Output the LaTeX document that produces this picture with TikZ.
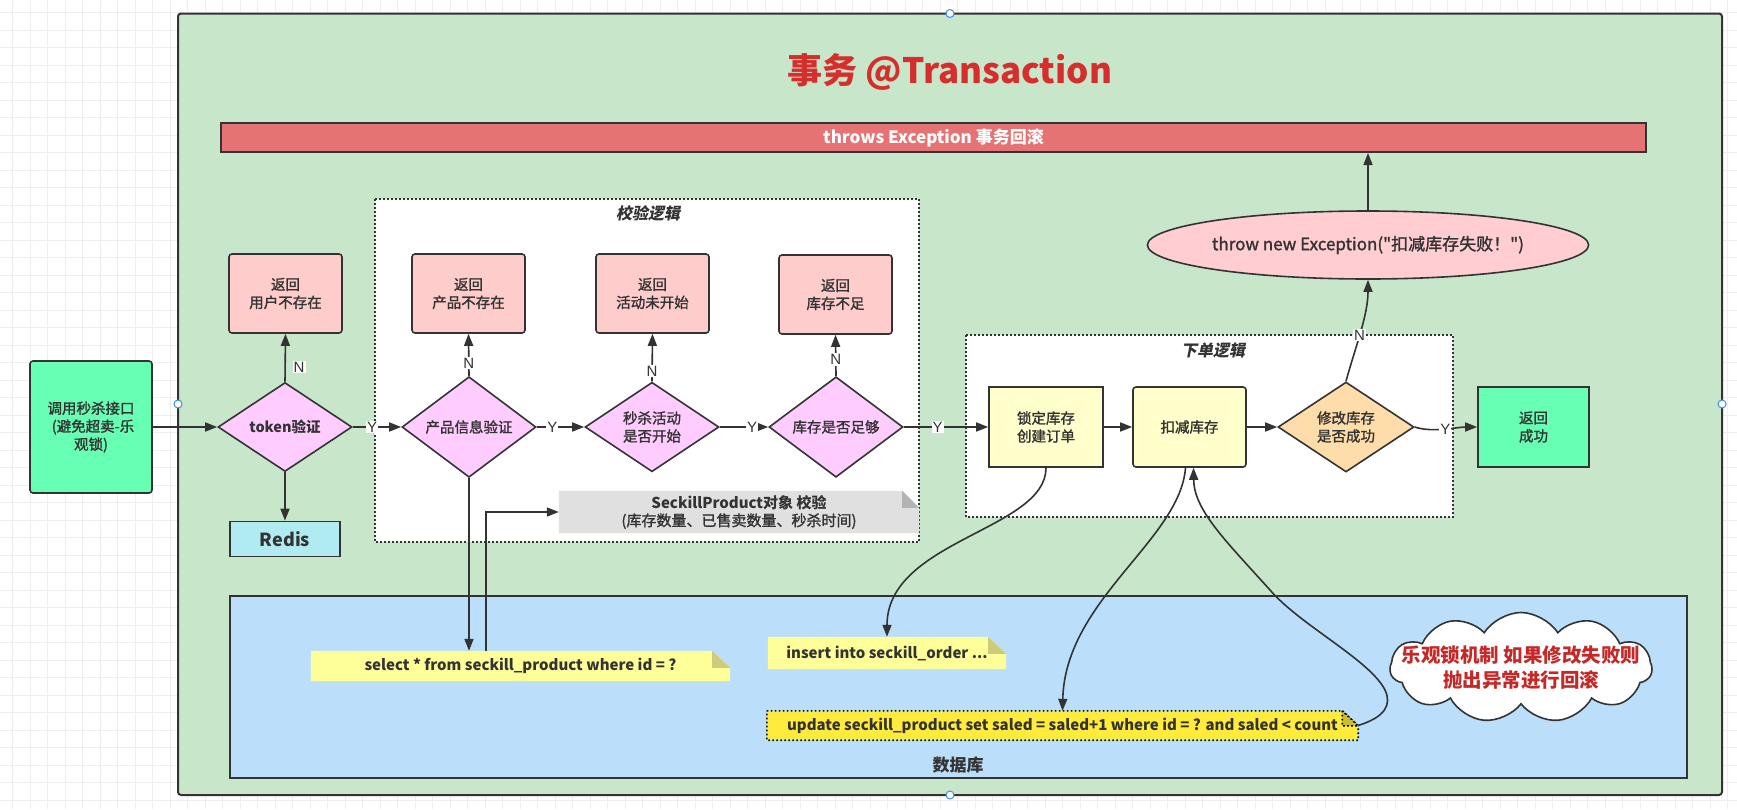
\documentclass[tikz,border=0pt]{standalone}
\usepackage{fontspec}
\setmainfont{Noto Sans CJK SC}[Ligatures=TeXOff, FakeBold=1.5, BoldFeatures={FakeBold=0}]
\newfontfamily\slantcjk{Noto Sans CJK SC}[FakeSlant=0.2]
\newfontfamily\lblfam{Liberation Sans}
\usetikzlibrary{shapes.geometric,shapes.symbols,arrows.meta,calc}
\pgfdeclarelayer{back}
\pgfdeclarelayer{mid}
\pgfsetlayers{back,mid,main}
\newcommand\myfs[2]{\fontsize{#1pt}{#2pt}\selectfont}
\definecolor{ln}{HTML}{333333}
\definecolor{txt}{HTML}{333333}
\definecolor{greenbg}{HTML}{C8E6C9}
\definecolor{retpink}{HTML}{FFCCCC}
\definecolor{diapink}{HTML}{FFCCFF}
\definecolor{lockyel}{HTML}{FFFFCC}
\definecolor{okgreen}{HTML}{66FFB3}
\definecolor{redisc}{HTML}{B0EBF2}
\definecolor{dbblue}{HTML}{BBDEFB}
\definecolor{barred}{HTML}{E57373}
\definecolor{titlered}{HTML}{D62D2D}
\definecolor{thrpink}{HTML}{FFCDD2}
\definecolor{modorange}{HTML}{FFDDAA}
\definecolor{notey}{HTML}{FFFF99}
\definecolor{foldy}{HTML}{CCCC7A}
\definecolor{notegr}{HTML}{E0E0E0}
\definecolor{foldgr}{HTML}{B3B3B3}
\definecolor{updy}{HTML}{FFEB3B}
\definecolor{foldupd}{HTML}{CCBC2F}
\definecolor{cloudred}{HTML}{C62828}
\definecolor{gridc}{HTML}{EEEEEE}
\definecolor{handlec}{HTML}{3B8CF5}
\begin{document}
\begin{tikzpicture}[x=1pt,y=-1pt,
  base/.style={draw=ln, line width=1.6pt, font=\myfs{14.5}{18}, text=txt, align=center, inner sep=0pt},
  retbox/.style={base, rounded corners=3pt, fill=retpink, minimum width=113pt, minimum height=79pt},
  dia/.style={base, diamond, fill=diapink, minimum width=134pt, minimum height=89pt},
  sqbox/.style={base, minimum width=114pt, minimum height=80pt},
  arr/.style={draw=ln, line width=1.6pt, -{Triangle[length=12pt,width=9pt]}},
  lbl/.style={fill=white, inner sep=1pt, font=\lblfam\myfs{15}{17}, text=txt},
  notetxt/.style={inner sep=0pt, font=\bfseries\myfs{15}{18}, text=txt, align=center},
  dotbox/.style={draw=ln, fill=white, line width=1.6pt, dash pattern=on 1.6pt off 2.4pt},
  ctitle/.style={font=\slantcjk\bfseries\myfs{16}{18}, text=txt},
  handle/.style={circle, draw=handlec, fill=white, line width=1pt, minimum size=8pt, inner sep=0pt}
]
\useasboundingbox (0,0) rectangle (1737,809);
\begin{pgfonlayer}{back}
  \fill[white] (0,0) rectangle (1737,809);
  \foreach \i in {0,...,99} {\draw[gridc, line width=0.8pt] ({12.7+17.5*\i},0) -- ({12.7+17.5*\i},809);}
  \foreach \i in {0,...,46} {\draw[gridc, line width=0.8pt] (0,{12.7+17.5*\i}) -- (1737,{12.7+17.5*\i});}
  \draw[fill=greenbg, draw=ln, line width=2pt, rounded corners=3pt] (178,13.5) rectangle (1722,795);
  \draw[dotbox] (375,199) rectangle (919,542);
  \draw[dotbox] (966,335) rectangle (1453,517);
  \draw[fill=dbblue, draw=ln, line width=2pt] (230,596) rectangle (1687,778);
\end{pgfonlayer}

% handles
\node[handle] (h1) at (950,13.5) {};
\node[handle] (h2) at (178,404) {};
\node[handle] (h3) at (1722,404) {};
\node[handle] (h4) at (950,795) {};

% titles
\node[font=\bfseries\myfs{35}{40}, text=titlered] (title) at (950,72) {事务 @Transaction};
\node[draw=ln, line width=2pt, fill=barred, minimum width=1425pt, minimum height=29pt, inner sep=0pt,
      font=\bfseries\myfs{17}{20}, text=white] (bar) at (933.5,137.5) {throws Exception 事务回滚};
\node[ctitle] (t1) at (648,213) {校验逻辑};
\node[ctitle] (t2) at (1213,350) {下单逻辑};
\node[font=\bfseries\myfs{17}{20}, text=txt] (dbl) at (958,765) {数据库};

% main flow
\node[base, rounded corners=3pt, fill=okgreen, minimum width=122pt, minimum height=132pt] (start) at (91,427) {调用秒杀接口\\\hspace*{4pt}(避免超卖-乐\\观锁)};
\node[dia] (tok) at (285,427) {\bfseries token验证};
\node[retbox] (u1) at (285.5,293.5) {返回\\用户不存在};
\node[base, fill=redisc, minimum width=110pt, minimum height=35pt, font=\bfseries\myfs{18}{20}] (redis) at (285,539) {Redis};
\node[dia] (p1) at (469,427) {产品信息验证};
\node[retbox] (b2) at (468.5,293.5) {返回\\产品不存在};
\node[dia] (s1) at (652,427) {秒杀活动\\是否开始};
\node[retbox] (b3) at (652.5,293.5) {返回\\活动未开始};
\node[dia] (k1) at (836,427) {库存是否足够};
\node[retbox] (b4) at (835.5,294.5) {返回\\库存不足};
\node[sqbox, fill=lockyel] (lock) at (1046,427) {锁定库存\\创建订单};
\node[sqbox, fill=lockyel, rounded corners=3pt, minimum width=113pt] (dec) at (1189.5,427) {扣减库存};
\node[base, diamond, fill=modorange, minimum width=136pt, minimum height=90pt] (mod) at (1346,427) {修改库存\\是否成功};
\node[sqbox, fill=okgreen, minimum width=111pt] (ok) at (1533.5,427) {返回\\成功};
\node[base, ellipse, fill=thrpink, minimum width=382pt, minimum height=68pt, font=\myfs{17}{20}] (thr) at (1368,245) {throw new Exception("扣减库存失败！")};

% notes
\node[notetxt, minimum width=360pt, minimum height=42pt] (spn) at (739,512) {SeckillProduct对象 校验\\\mdseries(库存数量、已售卖数量、秒杀时间)};
\node[notetxt, minimum width=419pt, minimum height=30pt] (sel) at (520.5,666) {select * from seckill\_product where id = ?};
\node[notetxt, minimum width=238pt, minimum height=32pt] (ins) at (887,653) {insert into seckill\_order ...};
\node[notetxt, minimum width=591pt, minimum height=29pt] (upd) at (1062.5,725.5) {update seckill\_product set saled = saled+1 where id = ? and saled < count};

\begin{pgfonlayer}{mid}
  \fill[notegr] (spn.north west) -- ([xshift=-17pt]spn.north east) -- ([yshift=-17pt]spn.north east) -- (spn.south east) -- (spn.south west) -- cycle;
  \fill[foldgr] ([xshift=-17pt]spn.north east) -- ([xshift=-17pt,yshift=-17pt]spn.north east) -- ([yshift=-17pt]spn.north east) -- cycle;
  \fill[notey] (sel.north west) -- ([xshift=-18pt]sel.north east) -- ([yshift=-17pt]sel.north east) -- (sel.south east) -- (sel.south west) -- cycle;
  \fill[foldy] ([xshift=-18pt]sel.north east) -- ([xshift=-18pt,yshift=-17pt]sel.north east) -- ([yshift=-17pt]sel.north east) -- cycle;
  \fill[notey] (ins.north west) -- ([xshift=-18pt]ins.north east) -- ([yshift=-17pt]ins.north east) -- (ins.south east) -- (ins.south west) -- cycle;
  \fill[foldy] ([xshift=-18pt]ins.north east) -- ([xshift=-18pt,yshift=-17pt]ins.north east) -- ([yshift=-17pt]ins.north east) -- cycle;
  \draw[fill=updy, draw=black, line width=1.6pt, dash pattern=on 1.6pt off 2.4pt] (upd.north west) -- ([xshift=-16pt]upd.north east) -- ([yshift=-15pt]upd.north east) -- (upd.south east) -- (upd.south west) -- cycle;
  \draw[fill=foldupd, draw=black, line width=1.6pt, dash pattern=on 1.6pt off 2.4pt] ([xshift=-16pt]upd.north east) -- ([xshift=-16pt,yshift=-15pt]upd.north east) -- ([yshift=-15pt]upd.north east) -- cycle;
\end{pgfonlayer}

% cloud
\node[cloud, draw=ln, fill=white, line width=1.6pt, cloud puffs=11, cloud puff arc=115, aspect=2.4,
      minimum width=262pt, minimum height=110pt, inner sep=0pt] (cl) at (1521,667.5) {};
\node[font=\bfseries\myfs{19.5}{25}, text=cloudred, align=center] (clt) at (cl.center) {乐观锁机制 如果修改失败则\\抛出异常进行回滚};

% connectors
\draw[arr] (start.east) -- (tok.west);
\draw[arr] (tok.north) -- node[lbl, pos=0.3, xshift=14pt] {N} (u1.south);
\draw[arr] (tok.south) -- (redis.north);
\draw[arr] (tok.east) -- node[lbl, pos=0.4] {Y} (p1.west);
\draw[arr] (p1.north) -- node[lbl, pos=0.3] {N} (b2.south);
\draw[arr] (p1.east) -- node[lbl, pos=0.33] {Y} (s1.west);
\draw[arr] (s1.north) -- node[lbl, pos=0.22] {N} (b3.south);
\draw[arr] (s1.east) -- node[lbl, pos=0.67] {Y} (k1.west);
\draw[arr] (k1.north) -- node[lbl, pos=0.4] {N} (b4.south);
\draw[arr] (k1.east) -- node[lbl, pos=0.4] {Y} (lock.west);
\draw[arr] (lock.east) -- (dec.west);
\draw[arr] (dec.east) -- (mod.west);
\draw[arr] (mod.east) .. controls +(18,6) and +(-20,0) .. node[lbl, pos=0.5] {Y} (ok.west);
\draw[arr] (mod.north) .. controls (1356,345) and (1368,315) .. node[lbl, pos=0.45] {N} (thr.south);
\draw[arr] (thr.north) -- (thr.north |- bar.south);
\draw[arr] (p1.south) -- (p1.south |- sel.north);
\path (p1.south |- sel.north) ++(17,0) coordinate (selup);
\draw[arr] (selup) |- (spn.west);
\draw[arr] (lock.south) .. controls (1046,530) and (887,540) .. (ins.north);
\draw[arr] ([xshift=-4pt]dec.south) .. controls (1180,540) and (1065,600) .. (upd.north);
\draw[arr] (upd.east) .. controls (1385,717) and (1392,705) .. (1385,690) .. controls (1370,660) and (1300,625) .. (1270,590) .. controls (1225,540) and (1194,510) .. ([xshift=4pt]dec.south);
\end{tikzpicture}
\end{document}
